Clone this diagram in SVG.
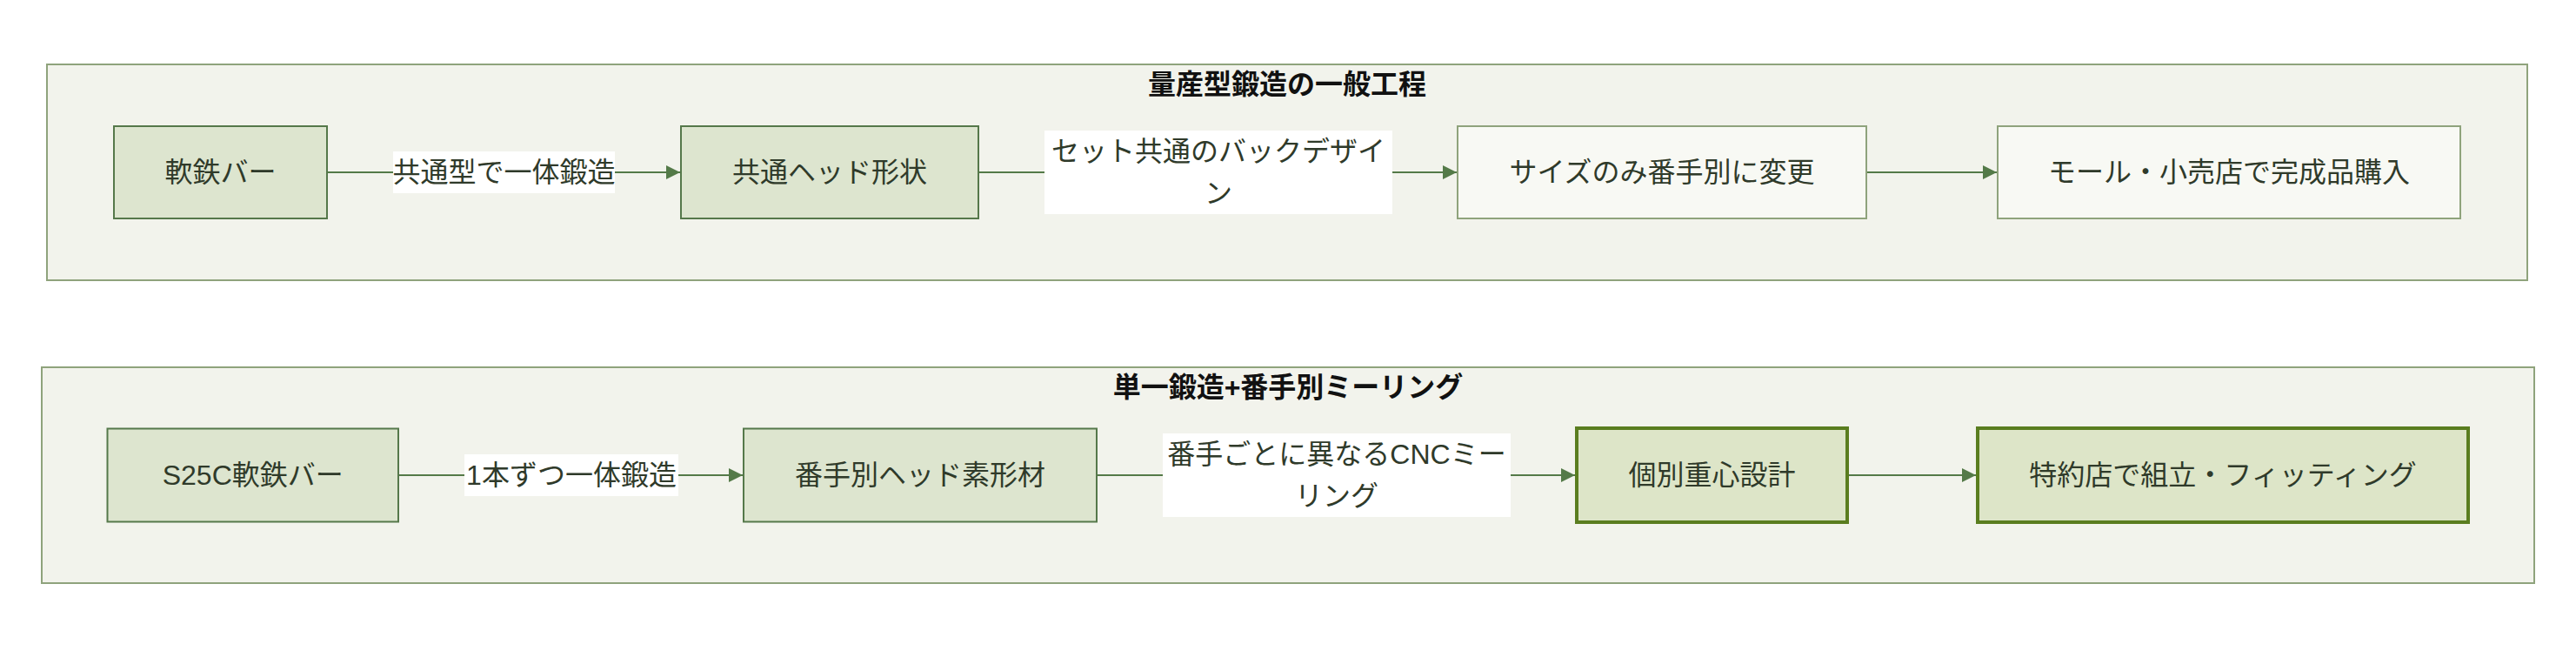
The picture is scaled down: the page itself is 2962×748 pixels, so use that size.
<svg xmlns="http://www.w3.org/2000/svg" width="2962" height="748" viewBox="0 0 2962 748">
<style>
text{font-family:"Liberation Sans","Noto Sans CJK JP",sans-serif;font-size:32px;text-anchor:middle;dominant-baseline:central;fill:#2f3a2a}
.title{fill:#111;font-weight:bold}
.cluster{fill:#f2f3ec;stroke:#8fa37c;stroke-width:2}
.n{fill:#dde5cf;stroke:#55784a;stroke-width:2}
.l{fill:#f8f9f4;stroke:#8fa37c;stroke-width:2}
.h{fill:#dde5c8;stroke:#5a7d1f;stroke-width:4}
.e{fill:none;stroke:#547a48;stroke-width:2}
.lb{fill:#ffffff}
</style>
<defs>
<marker id="arr" markerUnits="userSpaceOnUse" markerWidth="16" markerHeight="16" refX="16" refY="8" orient="auto">
<path d="M0,0 L16,8 L0,16 z" fill="#547a48"/>
</marker>
</defs>
<g id="cluster-mass">
<rect class="cluster" x="54" y="74" width="2852" height="248"/>
<text class="title" x="1480" y="97">量産型鍛造の一般工程</text>
</g>
<g id="cluster-single">
<rect class="cluster" x="48" y="422" width="2866" height="248"/>
<text class="title" x="1481" y="445">単一鍛造+番手別ミーリング</text>
</g>
<g id="connectors">
<path class="e" d="M377,198 L782,198" marker-end="url(#arr)"/>
<path class="e" d="M1126,198 L1675,198" marker-end="url(#arr)"/>
<path class="e" d="M2147,198 L2296,198" marker-end="url(#arr)"/>
<path class="e" d="M459,546 L854,546" marker-end="url(#arr)"/>
<path class="e" d="M1262,546 L1811,546" marker-end="url(#arr)"/>
<path class="e" d="M2125,546 L2272,546" marker-end="url(#arr)"/>
<g id="edge-label-1"><rect class="lb" x="452" y="174" width="255" height="48"/><text x="579.5" y="198">共通型で一体鍛造</text></g>
<g id="edge-label-2"><rect class="lb" x="1201" y="150" width="400" height="96"/><text x="1401" y="174">セット共通のバックデザイ</text><text x="1401" y="222">ン</text></g>
<g id="edge-label-3"><rect class="lb" x="534" y="522" width="246" height="48"/><text x="657" y="546">1本ずつ一体鍛造</text></g>
<g id="edge-label-4"><rect class="lb" x="1337" y="498" width="400" height="96"/><text x="1537" y="522">番手ごとに異なるCNCミー</text><text x="1537" y="570">リング</text></g>
</g>
<g id="node-bar"><rect class="n" x="131" y="145" width="245" height="106"/><text x="253.5" y="198">軟鉄バー</text></g>
<g id="node-head"><rect class="n" x="783" y="145" width="342" height="106"/><text x="954" y="198">共通ヘッド形状</text></g>
<g id="node-size"><rect class="l" x="1676" y="145" width="470" height="106"/><text x="1911" y="198">サイズのみ番手別に変更</text></g>
<g id="node-buy"><rect class="l" x="2297" y="145" width="532" height="106"/><text x="2563" y="198">モール・小売店で完成品購入</text></g>
<g id="node-s25c"><rect class="n" x="123.5" y="492.5" width="334.5" height="107"/><text x="290.75" y="546">S25C軟鉄バー</text></g>
<g id="node-blank"><rect class="n" x="855" y="492.5" width="406" height="107"/><text x="1058" y="546">番手別ヘッド素形材</text></g>
<g id="node-cg"><rect class="h" x="1813" y="492" width="311" height="108"/><text x="1968.5" y="546">個別重心設計</text></g>
<g id="node-fit"><rect class="h" x="2274" y="492" width="564" height="108"/><text x="2556" y="546">特約店で組立・フィッティング</text></g>
</svg>
